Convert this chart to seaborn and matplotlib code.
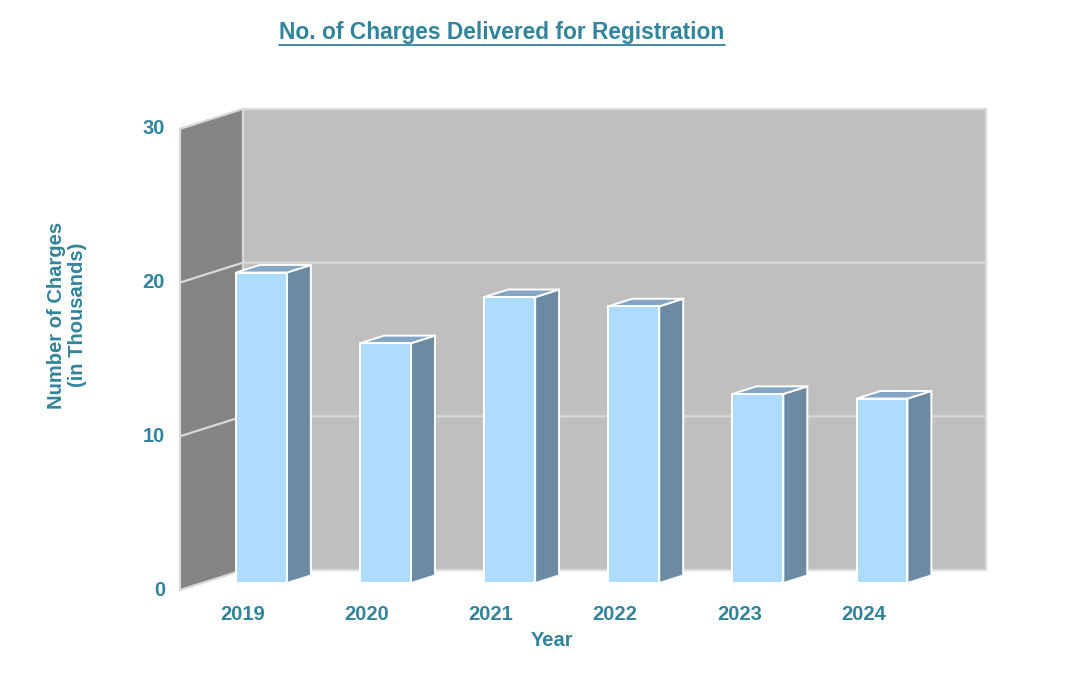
import matplotlib
matplotlib.use("Agg")
import matplotlib.pyplot as plt
from matplotlib.lines import Line2D
import numpy as np
import seaborn as sns

years = ["2019", "2020", "2021", "2022", "2023", "2024"]
charges = [20.2, 15.6, 18.6, 18.0, 12.3, 12.0]
y_ticks = [0, 10, 20, 30]

TEAL = "#31849B"
FRONT = "#ADDCFF"
SIDE = "#6C8BA3"
TOP = "#84A6C4"
LEFT_WALL = "#858383"
BACK_WALL = "#BFBFBF"
EDGE = "#D9D9D9"

sns.set_theme(style="white")
plt.rcParams["font.family"] = ["Liberation Sans", "DejaVu Sans"]

# pseudo-3d geometry (data units of the bar plane)
DX, DY = 0.508, 1.301   # full depth offset
D0 = 0.35               # depth of the bar front faces
BAR_D = 0.38            # bar depth
BAR_W = 0.41
X_LEFT, X_RIGHT = -0.479, 5.508   # wall extents in bar-plane units


def proj(x, v, d):
    return x + (d - D0) * DX, v + (d - D0) * DY


fig = plt.figure(figsize=(10.91, 6.96), dpi=100)
ax = fig.add_axes([0, 0, 1, 1])

vmax = y_ticks[-1]
# left wall
lw_pts = [proj(X_LEFT, 0, 0), proj(X_LEFT, 0, 1), proj(X_LEFT, vmax, 1), proj(X_LEFT, vmax, 0)]
ax.fill(*zip(*lw_pts), facecolor=LEFT_WALL, edgecolor=EDGE, lw=1.6, zorder=1)
# back wall
bw_pts = [proj(X_LEFT, 0, 1), proj(X_RIGHT, 0, 1), proj(X_RIGHT, vmax, 1), proj(X_LEFT, vmax, 1)]
ax.fill(*zip(*bw_pts), facecolor=BACK_WALL, edgecolor=EDGE, lw=1.6, zorder=1)
# gridlines on both walls
for t in y_ticks[1:-1]:
    a, b, c = proj(X_LEFT, t, 0), proj(X_LEFT, t, 1), proj(X_RIGHT, t, 1)
    ax.plot([a[0], b[0], c[0]], [a[1], b[1], c[1]], color=EDGE, lw=1.6, zorder=2)

# bars: front faces through seaborn, then side / top faces
sns.barplot(x=years, y=charges, color=FRONT, saturation=1, width=BAR_W,
            edgecolor="white", linewidth=1.4, ax=ax, zorder=4)
bdx, bdy = BAR_D * DX, BAR_D * DY
for i, v in enumerate(charges):
    l, r = i - BAR_W / 2, i + BAR_W / 2
    side = [(r, 0), (r, v), (r + bdx, v + bdy), (r + bdx, bdy)]
    top = [(l, v), (r, v), (r + bdx, v + bdy), (l + bdx, v + bdy)]
    ax.fill(*zip(*side), facecolor=SIDE, edgecolor="white", lw=1.4, zorder=3)
    ax.fill(*zip(*top), facecolor=TOP, edgecolor="white", lw=1.4, zorder=3)

# axis labels drawn on the front plane
for t in y_ticks:
    x, y = proj(X_LEFT, t, 0)
    ax.text(x - 0.12, y, str(t), ha="right", va="center", color=TEAL,
            fontsize=14.5, fontweight="bold")
for i, yr in enumerate(years):
    ax.text(i - 0.15, -2.02, yr, ha="center", va="center", color=TEAL,
            fontsize=14.5, fontweight="bold")

ax.set_xlim(-2.107, 6.684)
ax.set_ylim(-7.35, 37.93)
ax.axis("off")

fig.text(552 / 1091, 1 - 641 / 696, "Year", ha="center", va="center",
         color=TEAL, fontsize=14.5, fontweight="bold")
fig.text(67 / 1091, 1 - 315 / 696, "Number of Charges\n(in Thousands)",
         ha="center", va="center", rotation=90, color=TEAL, fontsize=14.5,
         fontweight="bold", linespacing=1.1)
title = fig.text(502 / 1091, 1 - 32 / 696, "No. of Charges Delivered for Registration",
                 ha="center", va="center", color=TEAL, fontsize=16.4, fontweight="bold")

# underline the title
fig.canvas.draw()
bb = title.get_window_extent()
uy = (bb.y0 - 1) / fig.bbox.height
fig.add_artist(Line2D([bb.x0 / fig.bbox.width, bb.x1 / fig.bbox.width], [uy, uy],
                      color=TEAL, lw=1.3))

fig.savefig("out.png", dpi=100)
